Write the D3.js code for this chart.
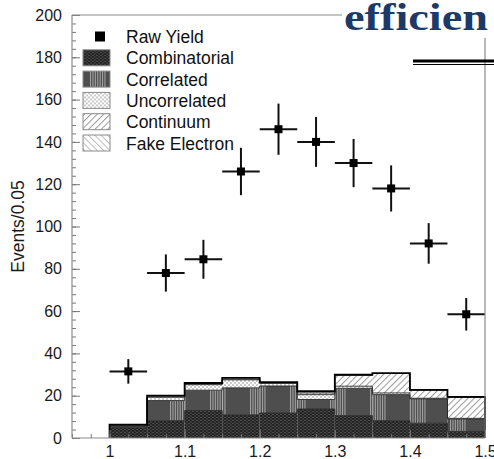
<!DOCTYPE html>
<html>
<head>
<meta charset="utf-8">
<script src="https://cdnjs.cloudflare.com/ajax/libs/d3/7.8.5/d3.min.js"></script>
<style>
body{margin:0;background:#fff;}
svg{display:block;}
text{font-family:"Liberation Sans",Arial,Helvetica,sans-serif;}
</style>
</head>
<body>
<div id="chart"></div>
<script>
// bins of 0.05 from 1.0 to 1.5
var binEdges=[1.0,1.05,1.1,1.15,1.2,1.25,1.3,1.35,1.4,1.45,1.5];
var binCenters=[1.025,1.075,1.125,1.175,1.225,1.275,1.325,1.375,1.425,1.475];
var rawYield=[31.5,78,84.5,126,146,140,130,118,92,58.5];
var rawError=[5.8,8.8,9.2,11.2,12.1,11.8,11.4,10.9,9.6,7.7];
var combinatorial=[5.1,8.2,13,11,11.8,13.7,10.6,8.2,7,3.1];
var correlated=[0.3,9.5,9.6,12.7,12.8,4.5,12.9,12.3,11.5,5.9];
var uncorrelated=[0.4,1.6,2.6,3.8,1.2,2.3,1.0,0.8,0.3,0.3];
var continuum=[0.2,0.2,0.3,0.3,0.2,0.8,5.2,9.2,3.8,9.9];
var fakeElectron=[0.3,0.5,0.5,0.6,0.4,0.8,0.2,0.2,0.2,0.2];
var layerNames=["Combinatorial","Correlated","Uncorrelated","Continuum","Fake Electron"];
var layerFills=["url(#pComb)","url(#pCorr)","url(#pUncorr)","url(#pCont)","url(#pFake)"];
var xTicks=[1,1.1,1.2,1.3,1.4,1.5];
var yTicks=[0,20,40,60,80,100,120,140,160,180,200];
var yLabel="Events/0.05";
var slideWord="efficien";

class StackPlot{
	constructor(divID,w,h){
		this.w=w;
		this.h=h;
		this.margin={"top":15,"right":9,"bottom":21,"left":72};
		this.layers=[combinatorial,correlated,uncorrelated,continuum,fakeElectron];
		this.xScale=d3.scaleLinear()
		 .domain([0.95,1.5])
		 .range([this.margin.left,this.w-this.margin.right]);
		this.yScale=d3.scaleLinear()
		 .domain([0,200])
		 .range([this.h-this.margin.bottom,this.margin.top]);
		this.svg=d3.select("#"+divID)
		 .append("svg")
		 .attr("width",this.w)
		 .attr("height",this.h);
		this.makePatterns();
		this.drawStack();
		this.drawPoints();
		this.drawAxes();
		this.drawLegend();
		this.drawSlideBits();
	}
	makePatterns(){
		var defs=this.svg.append("defs");
		var p=defs.append("pattern").attr("id","pComb").attr("patternUnits","userSpaceOnUse")
		 .attr("width",4).attr("height",3);
		p.append("rect").attr("width",4).attr("height",3).attr("fill","#242424");
		p.append("rect").attr("x",0).attr("y",0).attr("width",2).attr("height",1).attr("fill","#4c4c4c");
		p.append("rect").attr("x",2).attr("y",1.5).attr("width",2).attr("height",1).attr("fill","#4c4c4c");

		p=defs.append("pattern").attr("id","pCorr").attr("patternUnits","userSpaceOnUse")
		 .attr("width",40).attr("height",4).attr("x",6);
		p.append("rect").attr("width",40).attr("height",4).attr("fill","#4e4e4e");
		for(var i=0;i<7;i++){
			p.append("rect").attr("x",4+i*2.4).attr("width",1.1).attr("height",4).attr("fill","#a0a0a0");
		}

		p=defs.append("pattern").attr("id","pUncorr").attr("patternUnits","userSpaceOnUse")
		 .attr("width",4).attr("height",4);
		p.append("rect").attr("width",4).attr("height",4).attr("fill","#fff");
		p.append("circle").attr("cx",1).attr("cy",1).attr("r",0.8).attr("fill","#8a8a8a");
		p.append("circle").attr("cx",3).attr("cy",3).attr("r",0.8).attr("fill","#8a8a8a");

		p=defs.append("pattern").attr("id","pCont").attr("patternUnits","userSpaceOnUse")
		 .attr("width",4.5).attr("height",4.5).attr("patternTransform","rotate(45)");
		p.append("rect").attr("width",4.5).attr("height",4.5).attr("fill","#fff");
		p.append("line").attr("x1",0.5).attr("x2",0.5).attr("y1",0).attr("y2",4.5)
		 .attr("stroke","#9a9a9a").attr("stroke-width",1);

		p=defs.append("pattern").attr("id","pFake").attr("patternUnits","userSpaceOnUse")
		 .attr("width",4.5).attr("height",4.5).attr("patternTransform","rotate(-45)");
		p.append("rect").attr("width",4.5).attr("height",4.5).attr("fill","#fff");
		p.append("line").attr("x1",0.5).attr("x2",0.5).attr("y1",0).attr("y2",4.5)
		 .attr("stroke","#bdbdbd").attr("stroke-width",1);
	}
	drawStack(){
		var x=this.xScale;
		var y=this.yScale;
		var cum=binCenters.map(function(){return 0;});
		var tops=[];
		for(var k=0;k<this.layers.length;k++){
			var vals=this.layers[k];
			var rows=[];
			for(var i=0;i<vals.length;i++){
				rows.push({"x0":binEdges[i],"x1":binEdges[i+1],"y0":cum[i],"y1":cum[i]+vals[i]});
				cum[i]+=vals[i];
			}
			tops.push(cum.slice());
			this.svg.append("g").selectAll("rect")
			 .data(rows)
			 .enter()
			 .append("rect")
			 .attr("x",function(d){return x(d.x0);})
			 .attr("y",function(d){return y(d.y1);})
			 .attr("width",function(d){return x(d.x1)-x(d.x0);})
			 .attr("height",function(d){return y(d.y0)-y(d.y1);})
			 .attr("fill",layerFills[k]);
		}
		var step=d3.line()
		 .x(function(d){return x(d[0]);})
		 .y(function(d){return y(d[1]);})
		 .curve(d3.curveStepAfter);
		// thin boundaries between layers
		for(var k=0;k<tops.length-1;k++){
			var pts=tops[k].map(function(v,i){return [binEdges[i],v];});
			pts.push([binEdges[binEdges.length-1],tops[k][tops[k].length-1]]);
			this.svg.append("path").attr("d",step(pts))
			 .attr("fill","none").attr("stroke","#2a2a2a").attr("stroke-width",0.9);
		}
		// outer envelope
		var total=tops[tops.length-1];
		var env=[[binEdges[0],0]];
		total.forEach(function(v,i){env.push([binEdges[i],v]);});
		env.push([binEdges[binEdges.length-1],total[total.length-1]]);
		env.push([binEdges[binEdges.length-1],0]);
		this.svg.append("path").attr("d",step(env))
		 .attr("fill","none").attr("stroke","#000").attr("stroke-width",1.8);
	}
	drawPoints(){
		var x=this.xScale;
		var y=this.yScale;
		var pts=binCenters.map(function(c,i){return {"x":c,"v":rawYield[i],"e":rawError[i]};});
		var g=this.svg.append("g");
		g.selectAll(".hbar").data(pts).enter().append("line")
		 .attr("x1",function(d){return x(d.x-0.025);})
		 .attr("x2",function(d){return x(d.x+0.025);})
		 .attr("y1",function(d){return y(d.v);})
		 .attr("y2",function(d){return y(d.v);})
		 .attr("stroke","#111").attr("stroke-width",2);
		g.selectAll(".vbar").data(pts).enter().append("line")
		 .attr("x1",function(d){return x(d.x);})
		 .attr("x2",function(d){return x(d.x);})
		 .attr("y1",function(d){return y(d.v-d.e);})
		 .attr("y2",function(d){return y(d.v+d.e);})
		 .attr("stroke","#111").attr("stroke-width",2);
		g.selectAll(".mark").data(pts).enter().append("rect")
		 .attr("x",function(d){return x(d.x)-4;})
		 .attr("y",function(d){return y(d.v)-4;})
		 .attr("width",8).attr("height",8).attr("fill","#000");
	}
	drawAxes(){
		var x=this.xScale;
		var y=this.yScale;
		var bottom=this.h-this.margin.bottom;
		var left=this.margin.left;
		// minor ticks
		var gy2=this.svg.append("g").attr("transform","translate("+left+",0)")
		 .call(d3.axisLeft(y).tickValues(d3.range(0,201,4)).tickSize(-4).tickFormat(""));
		gy2.select(".domain").remove();
		var gx2=this.svg.append("g").attr("transform","translate(0,"+bottom+")")
		 .call(d3.axisBottom(x).tickValues(d3.range(0.95,1.501,0.025)).tickSize(-4).tickFormat(""));
		gx2.select(".domain").remove();
		var gy=this.svg.append("g").attr("class","axis").attr("transform","translate("+left+",0)")
		 .call(d3.axisLeft(y).tickValues(yTicks).tickSize(-8).tickPadding(10));
		gy.select(".domain").remove();
		var gx=this.svg.append("g").attr("class","axis").attr("transform","translate(0,"+bottom+")")
		 .call(d3.axisBottom(x).tickValues(xTicks).tickSize(-8).tickPadding(8).tickFormat(d3.format("~g")));
		gx.select(".domain").remove();
		this.svg.selectAll(".tick line").attr("stroke","#777");
		this.svg.selectAll(".axis text").attr("font-size",16).attr("fill","#1a1a1a")
		 .style("font-family","'Liberation Sans',Arial,sans-serif");
		// frame
		var fr=this.svg.append("g").attr("stroke","#8a8a8a").attr("stroke-width",1.2);
		fr.append("line").attr("x1",left).attr("x2",left).attr("y1",this.margin.top).attr("y2",bottom);
		fr.append("line").attr("x1",left).attr("x2",x(1.5)).attr("y1",bottom).attr("y2",bottom);
		fr.append("line").attr("x1",left).attr("x2",342).attr("y1",this.margin.top).attr("y2",this.margin.top);
		fr.append("line").attr("x1",x(1.5)).attr("x2",x(1.5)).attr("y1",38).attr("y2",bottom);
		this.svg.append("text")
		 .attr("transform","translate(24,"+y(100)+") rotate(-90)")
		 .attr("text-anchor","middle")
		 .attr("font-size",17.5).attr("fill","#1a1a1a")
		 .text(yLabel);
	}
	drawLegend(){
		var rowH=21.3;
		var top=36.5;
		var g=this.svg.append("g");
		g.append("rect").attr("x",95).attr("y",top-5).attr("width",10).attr("height",10).attr("fill","#000");
		g.append("text").attr("x",126).attr("y",top+6.5).attr("font-size",17.5).attr("fill","#111").text("Raw Yield");
		var items=g.selectAll(".item").data(layerNames).enter().append("g")
		 .attr("transform",function(d,i){return "translate(0,"+(top+(i+1)*rowH)+")";});
		items.append("rect").attr("x",83).attr("y",-8).attr("width",27).attr("height",16)
		 .attr("fill",function(d,i){return layerFills[i];})
		 .attr("stroke","#8a8a8a").attr("stroke-width",1);
		items.append("text").attr("x",126).attr("y",6.5).attr("font-size",17.5).attr("fill","#111")
		 .text(function(d){return d;});
	}
	drawSlideBits(){
		this.svg.append("text")
		 .attr("x",344).attr("y",30)
		 .style("font-family","'Liberation Serif','DejaVu Serif',serif")
		 .attr("font-weight","bold")
		 .attr("font-size",37)
		 .attr("textLength",144).attr("lengthAdjust","spacingAndGlyphs")
		 .style("font-variant-ligatures","none")
		 .attr("fill","#1c3a68")
		 .text(slideWord);
		this.svg.append("line").attr("x1",413).attr("x2",this.w).attr("y1",61).attr("y2",61)
		 .attr("stroke","#000").attr("stroke-width",3);
		this.svg.append("line").attr("x1",413).attr("x2",this.w).attr("y1",64.5).attr("y2",64.5)
		 .attr("stroke","#000").attr("stroke-width",1);
	}
}
new StackPlot("chart",494,459);
</script>
</body>
</html>
